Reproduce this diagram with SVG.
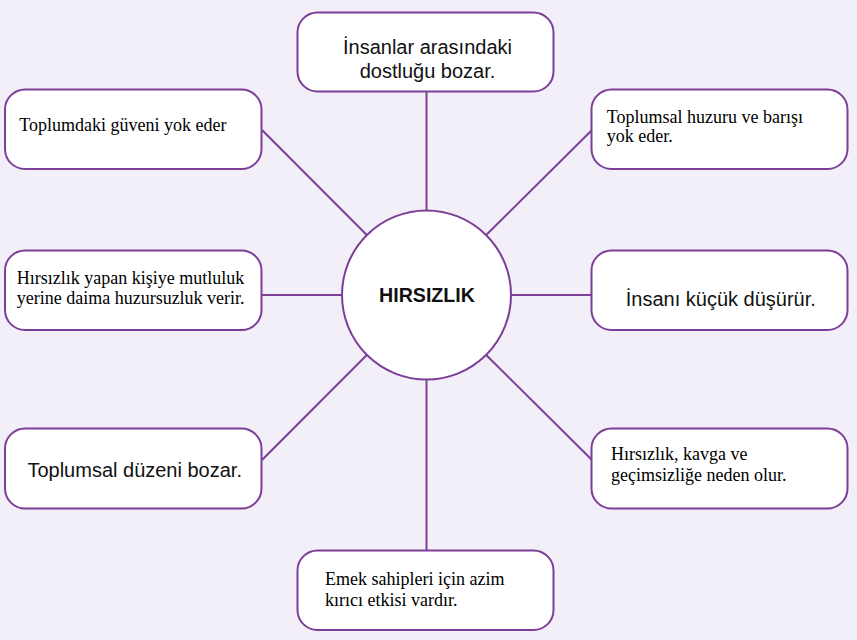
<svg xmlns="http://www.w3.org/2000/svg" width="857" height="640" viewBox="0 0 857 640">
<style>
.box{fill:#ffffff;stroke:#7b3f98;stroke-width:2}
.ln{stroke:#7b3f98;stroke-width:2;fill:none}
.sans{font-family:"Liberation Sans",Arial,sans-serif;font-size:20px;fill:#111111}
.serif{font-family:"Liberation Serif","Times New Roman",serif;font-size:18px;fill:#000000}
.title{font-family:"Liberation Sans",Arial,sans-serif;font-size:19.6px;font-weight:bold;fill:#111111}
</style>
<rect width="857" height="640" fill="#f3eff8"/>
<g id="connectors">
<line class="ln" x1="426.5" y1="91.5" x2="426.5" y2="210"/>
<line class="ln" x1="426.5" y1="379.5" x2="426.5" y2="550.5"/>
<line class="ln" x1="261.5" y1="295" x2="342" y2="295"/>
<line class="ln" x1="511" y1="295" x2="591.5" y2="295"/>
<line class="ln" x1="262" y1="130" x2="366.8" y2="235"/>
<line class="ln" x1="592" y1="130" x2="486.2" y2="235"/>
<line class="ln" x1="262" y1="460" x2="366.8" y2="355"/>
<line class="ln" x1="592" y1="460" x2="486.2" y2="355"/>
</g>
<g id="center">
<circle class="box" cx="426.5" cy="295" r="84.5"/>
<text class="title" x="427" y="301.7" text-anchor="middle">HIRSIZLIK</text>
</g>
<g id="node-top">
<rect class="box" x="297.5" y="12.5" width="256" height="79" rx="20"/>
<text class="sans" x="427.5" y="54.3" text-anchor="middle">İnsanlar arasındaki</text>
<text class="sans" x="427.5" y="77.7" text-anchor="middle">dostluğu bozar.</text>
</g>
<g id="node-top-left">
<rect class="box" x="5" y="89.5" width="256.5" height="79.5" rx="20"/>
<text class="serif" x="19.3" y="130.7">Toplumdaki güveni yok eder</text>
</g>
<g id="node-top-right">
<rect class="box" x="591.5" y="89.5" width="256" height="79.5" rx="20"/>
<text class="serif" x="606.7" y="122.7">Toplumsal huzuru ve barışı</text>
<text class="serif" x="606.7" y="141.9">yok eder.</text>
</g>
<g id="node-mid-left">
<rect class="box" x="5" y="250.5" width="256.5" height="79.5" rx="20"/>
<text class="serif" x="16.7" y="284">Hırsızlık yapan kişiye mutluluk</text>
<text class="serif" x="16.7" y="303.5">yerine daima huzursuzluk verir.</text>
</g>
<g id="node-mid-right">
<rect class="box" x="591.5" y="250.5" width="256" height="79.5" rx="20"/>
<text class="sans" x="720.8" y="306" text-anchor="middle">İnsanı küçük düşürür.</text>
</g>
<g id="node-bottom-left">
<rect class="box" x="5" y="428.5" width="256.5" height="80" rx="20"/>
<text class="sans" x="134.7" y="476.7" text-anchor="middle">Toplumsal düzeni bozar.</text>
</g>
<g id="node-bottom-right">
<rect class="box" x="591.5" y="428.5" width="256" height="80" rx="20"/>
<text class="serif" x="611" y="460">Hırsızlık, kavga ve</text>
<text class="serif" x="611" y="480.7">geçimsizliğe neden olur.</text>
</g>
<g id="node-bottom">
<rect class="box" x="297.5" y="550.5" width="256" height="79.5" rx="20"/>
<text class="serif" x="325" y="585">Emek sahipleri için azim</text>
<text class="serif" x="325" y="606">kırıcı etkisi vardır.</text>
</g>
</svg>
